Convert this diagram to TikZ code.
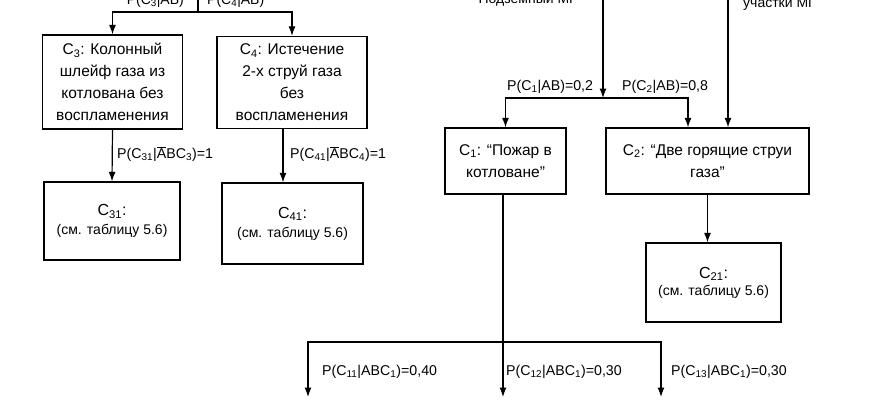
\documentclass[tikz,border=0pt]{standalone}
\usepackage{fontspec}
\setmainfont{Liberation Sans}
\usetikzlibrary{arrows.meta}
\newcommand{\abar}{$\overline{\mbox{A}}$}
\begin{document}
\begin{tikzpicture}[x=1pt,y=-1pt,
  box/.style={draw,line width=1.3pt,align=center,inner sep=0pt,font=\fontsize{15.5}{22}\selectfont},
  lbl/.style={anchor=west,inner sep=0pt,font=\fontsize{14.2}{16}\selectfont},
  src/.style={inner sep=0pt,font=\fontsize{14}{16}\selectfont},
  conn/.style={line width=1.2pt},
  arr/.style={conn,-{Latex[length=9.5pt,width=7pt]}}]
\useasboundingbox (0,0) rectangle (870,400);
\clip (0,0) rectangle (870,400);
\fill[white] (0,0) rectangle (870,400);

% cut-off texts at the top
\node[src,anchor=base east] (pC3) at (184,4) {P(C\textsubscript{3}|AB)};
\node[src,anchor=base west] (pC4) at (207,4) {P(C\textsubscript{4}|AB)};
\node[src,anchor=base east] (srcA) at (577,3) {Подземный МГ};
\node[src,anchor=base west] (srcB) at (743,7) {участки МГ};

% left branch
\coordinate (topL) at (198,-10);
\coordinate (jL) at (198,12);
\node[box,minimum width=140pt,minimum height=94pt] (C3) at (112.5,82)
  {C\textsubscript{3}: Колонный\\шлейф газа из\\котлована без\\воспламенения};
\node[box,minimum width=150pt,minimum height=92pt] (C4) at (292,82.5)
  {C\textsubscript{4}: Истечение\\2-х струй газа\\без\\воспламенения};
\node[box,minimum width=136pt,minimum height=78pt,font=\fontsize{16}{19}\selectfont] (C31) at (112,221)
  {C\textsubscript{31}:\\{\fontsize{14}{19}\selectfont(см. таблицу 5.6)}};
\node[box,minimum width=141pt,minimum height=81pt,font=\fontsize{16}{19}\selectfont] (C41) at (292.5,223.5)
  {C\textsubscript{41}:\\{\fontsize{14}{19}\selectfont(см. таблицу 5.6)}};

\draw[conn] (topL) -- (jL);
\draw[arr] (jL) -| (C3.north);
\draw[arr] (jL) -| (C4.north);
\draw[arr] (C3.south) -- (C31.north);
\draw[arr] ([xshift=-9pt]C4.south) -- ([xshift=-9.5pt]C41.north);
\node[lbl] (l31) at (117,154) {P(C\textsubscript{31}|\abar BC\textsubscript{3})=1};
\node[lbl] (l41) at (290,154) {P(C\textsubscript{41}|\abar BC\textsubscript{4})=1};

% right branch
\coordinate (topR1) at (603,-10);
\coordinate (topR2) at (728,-10);
\coordinate (jR) at (603,98);
\node[box,minimum width=121pt,minimum height=66pt] (C1) at (505.5,161)
  {C\textsubscript{1}: “Пожар в\\котловане”};
\node[box,minimum width=203pt,minimum height=66pt] (C2) at (707.5,161)
  {C\textsubscript{2}: “Две горящие струи\\газа”};
\node[box,minimum width=135pt,minimum height=79pt,font=\fontsize{16}{17}\selectfont] (C21) at (713.5,282.5)
  {C\textsubscript{21}:\\{\fontsize{14}{17}\selectfont(см. таблицу 5.6)}};

\draw[arr] (topR1) -- (jR);
\draw[arr] (jR) -| (C1.north);
\draw[arr] (jR) -| ([xshift=-19.5pt]C2.north);
\draw[arr] (topR2) -- ([xshift=20.5pt]C2.north);
\node[lbl] (l1) at (507,87) {P(C\textsubscript{1}|AB)=0,2};
\node[lbl] (l2) at (622,87) {P(C\textsubscript{2}|AB)=0,8};

\draw[arr] (C2.south) -- (C2.south |- C21.north);

% bottom branching from C1
\coordinate (j2) at (503,342);
\coordinate (e11) at (308,397);
\coordinate (e12) at (503,397);
\coordinate (e13) at (661,397);
\draw[arr] ([xshift=-2.5pt]C1.south) -- (e12);
\draw[arr] (j2) -| (e11);
\draw[arr] (j2) -| (e13);
\node[lbl] (l11) at (322,372) {P(C\textsubscript{11}|ABC\textsubscript{1})=0,40};
\node[lbl] (l12) at (506,372) {P(C\textsubscript{12}|ABC\textsubscript{1})=0,30};
\node[lbl] (l13) at (671,372) {P(C\textsubscript{13}|ABC\textsubscript{1})=0,30};
\end{tikzpicture}
\end{document}
